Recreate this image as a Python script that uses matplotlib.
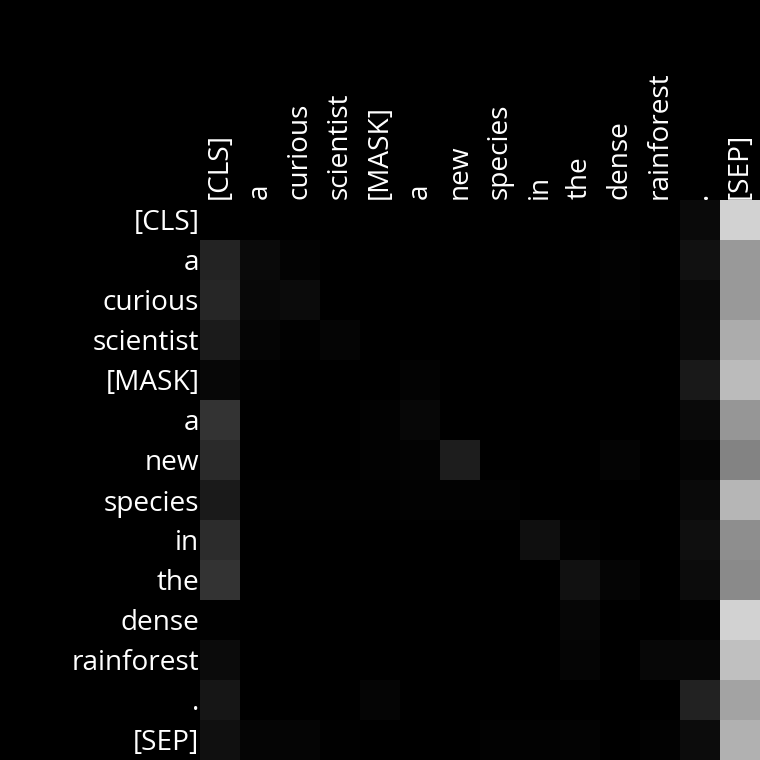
import numpy as np
import matplotlib
matplotlib.use("Agg")
import matplotlib.pyplot as plt

tokens = ["[CLS]", "a", "curious", "scientist", "[MASK]", "a", "new",
          "species", "in", "the", "dense", "rainforest", ".", "[SEP]"]

# attention weights (gray level / 255), rows = query tokens, cols = key tokens
row_cls        = [0, 0, 0, 0, 0, 0, 0, 0, 0, 0, 0, 0, 10, 210]
row_a1         = [35, 10, 3, 0, 0, 0, 0, 0, 0, 0, 2, 0, 17, 153]
row_curious    = [38, 8, 11, 0, 0, 0, 0, 0, 0, 0, 2, 0, 10, 153]
row_scientist  = [27, 5, 1, 5, 0, 0, 0, 0, 0, 0, 0, 0, 11, 172]
row_mask       = [7, 1, 0, 0, 0, 3, 0, 0, 0, 0, 0, 0, 25, 187]
row_a2         = [51, 0, 0, 0, 2, 7, 0, 0, 0, 0, 0, 0, 10, 150]
row_new        = [42, 0, 0, 0, 2, 3, 29, 0, 0, 0, 4, 0, 5, 132]
row_species    = [26, 1, 1, 1, 1, 2, 2, 2, 0, 0, 0, 0, 10, 182]
row_in         = [45, 0, 0, 0, 0, 0, 0, 0, 15, 2, 0, 0, 15, 142]
row_the        = [51, 0, 0, 0, 0, 0, 0, 0, 0, 17, 5, 0, 12, 138]
row_dense      = [1, 0, 0, 0, 0, 0, 0, 0, 0, 6, 0, 0, 2, 210]
row_rainforest = [11, 0, 0, 0, 0, 0, 0, 0, 0, 5, 0, 7, 7, 192]
row_period     = [22, 0, 0, 0, 5, 0, 0, 0, 0, 0, 0, 0, 34, 163]
row_sep        = [16, 5, 5, 1, 0, 0, 0, 2, 2, 3, 0, 2, 12, 177]

attn = np.array([row_cls, row_a1, row_curious, row_scientist, row_mask,
                 row_a2, row_new, row_species, row_in, row_the, row_dense,
                 row_rainforest, row_period, row_sep], dtype=float) / 255.0

plt.rcParams['font.family'] = ['Open Sans', 'DejaVu Sans']

fig = plt.figure(figsize=(7.6, 7.6), dpi=100, facecolor='black')
ax = fig.add_axes([200/760, 0, 560/760, 560/760])
ax.set_facecolor('black')
ax.imshow(attn, cmap='gray', vmin=0, vmax=1, aspect='auto',
          interpolation='nearest')
n = len(tokens)
ax.set_xticks(range(n))
ax.set_yticks(range(n))
ax.set_xticklabels(tokens, rotation=90, color='white', fontsize=20.2)
ax.set_yticklabels(tokens, color='white', fontsize=20.2)
ax.xaxis.tick_top()
ax.tick_params(length=0, pad=0.5)
for s in ax.spines.values():
    s.set_visible(False)

fig.savefig("out.png", dpi=100, facecolor='black')
